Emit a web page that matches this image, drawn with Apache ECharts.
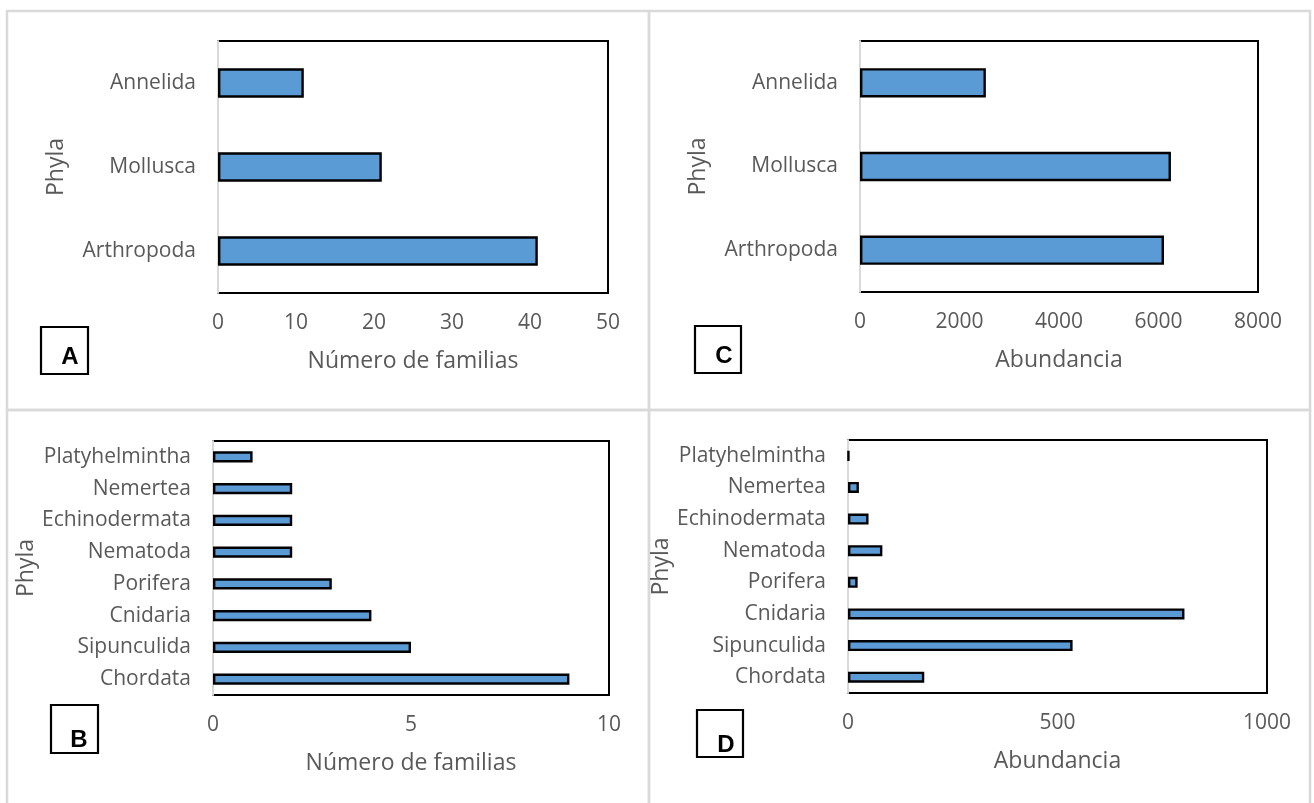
<!DOCTYPE html>
<html>
<head>
<meta charset="utf-8">
<script src="https://cdn.jsdelivr.net/npm/echarts@6/dist/echarts.min.js"></script>
<style>
html,body{margin:0;padding:0;background:#fff;}
#chart{width:1314px;height:803px;}
</style>
</head>
<body>
<div id="chart"></div>
<script>
// Data (category order: bottom to top, as in the source charts)
const phylaMain = ['Arthropoda', 'Mollusca', 'Annelida'];
const familiasMain = [41, 21, 11];
const abundanciaMain = [6110, 6250, 2530];

const phylaMinor = ['Chordata', 'Sipunculida', 'Cnidaria', 'Porifera', 'Nematoda', 'Echinodermata', 'Nemertea', 'Platyhelmintha'];
const familiasMinor = [9, 5, 4, 3, 2, 2, 2, 1];
const abundanciaMinor = [182, 536, 803, 23, 82, 49, 26, 2];

const axisNameFamilias = 'Número de familias';
const axisNameAbundancia = 'Abundancia';
const axisNamePhyla = 'Phyla';
const panelLetters = ['A', 'C', 'B', 'D'];

const TXT = '#595959';
const FONT = 'Open Sans';

const chart = echarts.init(document.getElementById('chart'), null, {renderer: 'canvas'});

const grids = [
  {left: 218, top: 41, width: 390, height: 252},
  {left: 860, top: 41, width: 398, height: 251},
  {left: 213, top: 441, width: 396, height: 254},
  {left: 848, top: 440, width: 419, height: 253}
];

const xDefs = [
  {max: 50, interval: 10, name: axisNameFamilias},
  {max: 8000, interval: 2000, name: axisNameAbundancia},
  {max: 10, interval: 5, name: axisNameFamilias},
  {max: 1000, interval: 500, name: axisNameAbundancia}
];
const yDefs = [
  {data: phylaMain, gap: 150},
  {data: phylaMain, gap: 150},
  {data: phylaMinor, gap: 172},
  {data: phylaMinor, gap: 165}
];
const seriesData = [familiasMain, abundanciaMain, familiasMinor, abundanciaMinor];

const option = {
  backgroundColor: '#fff',
  animation: false,
  grid: grids.map(g => Object.assign({show: true, borderColor: '#000', borderWidth: 2, backgroundColor: 'transparent', containLabel: false}, g)),
  xAxis: xDefs.map((d, i) => ({
    type: 'value', gridIndex: i, min: 0, max: d.max, interval: d.interval,
    name: d.name, nameLocation: 'middle', nameGap: 57,
    nameTextStyle: {color: TXT, fontFamily: FONT, fontSize: 23},
    axisLine: {show: false}, axisTick: {show: false}, splitLine: {show: false},
    axisLabel: {color: TXT, fontFamily: FONT, fontSize: 21, margin: 20, formatter: v => String(v)}
  })),
  yAxis: yDefs.map((d, i) => ({
    type: 'category', gridIndex: i, data: d.data,
    name: axisNamePhyla, nameLocation: 'middle', nameGap: d.gap, nameRotate: 90,
    nameTextStyle: {color: TXT, fontFamily: FONT, fontSize: 23},
    axisLine: {show: true, lineStyle: {color: '#d9d9d9', width: 2}},
    axisTick: {show: false}, splitLine: {show: false},
    axisLabel: {color: TXT, fontFamily: FONT, fontSize: 21, margin: 22}
  })),
  series: seriesData.map((data, i) => ({
    type: 'bar', xAxisIndex: i, yAxisIndex: i, data: data,
    barWidth: '35%',
    itemStyle: {color: '#5B9BD5', borderColor: '#000', borderWidth: 2.4},
    z: 1
  })),
  graphic: [
    {type: 'rect', shape: {x: 7, y: 11, width: 642, height: 399}, style: {fill: 'none', stroke: '#d9d9d9', lineWidth: 2.5}, silent: true, z: -1},
    {type: 'rect', shape: {x: 649, y: 11, width: 661, height: 399}, style: {fill: 'none', stroke: '#d9d9d9', lineWidth: 2.5}, silent: true, z: -1},
    {type: 'rect', shape: {x: 7, y: 410, width: 642, height: 420}, style: {fill: 'none', stroke: '#d9d9d9', lineWidth: 2.5}, silent: true, z: -1},
    {type: 'rect', shape: {x: 649, y: 410, width: 661, height: 420}, style: {fill: 'none', stroke: '#d9d9d9', lineWidth: 2.5}, silent: true, z: -1},
    // letter boxes
    {type: 'rect', shape: {x: 41, y: 327, width: 47, height: 47}, style: {fill: '#fff', stroke: '#000', lineWidth: 2.2}, z: 5},
    {type: 'text', style: {text: panelLetters[0], x: 70, y: 357, align: 'center', verticalAlign: 'middle', fill: '#000', font: 'bold 24px "Liberation Sans"'}, z: 6},
    {type: 'rect', shape: {x: 695, y: 326, width: 46, height: 47}, style: {fill: '#fff', stroke: '#000', lineWidth: 2.2}, z: 5},
    {type: 'text', style: {text: panelLetters[1], x: 724, y: 356, align: 'center', verticalAlign: 'middle', fill: '#000', font: 'bold 24px "Liberation Sans"'}, z: 6},
    {type: 'rect', shape: {x: 51, y: 705, width: 47, height: 48}, style: {fill: '#fff', stroke: '#000', lineWidth: 2.2}, z: 5},
    {type: 'text', style: {text: panelLetters[2], x: 79, y: 740, align: 'center', verticalAlign: 'middle', fill: '#000', font: 'bold 24px "Liberation Sans"'}, z: 6},
    {type: 'rect', shape: {x: 697, y: 710, width: 46, height: 47}, style: {fill: '#fff', stroke: '#000', lineWidth: 2.2}, z: 5},
    {type: 'text', style: {text: panelLetters[3], x: 726, y: 745, align: 'center', verticalAlign: 'middle', fill: '#000', font: 'bold 24px "Liberation Sans"'}, z: 6}
  ]
};
chart.setOption(option);
</script>
</body>
</html>
